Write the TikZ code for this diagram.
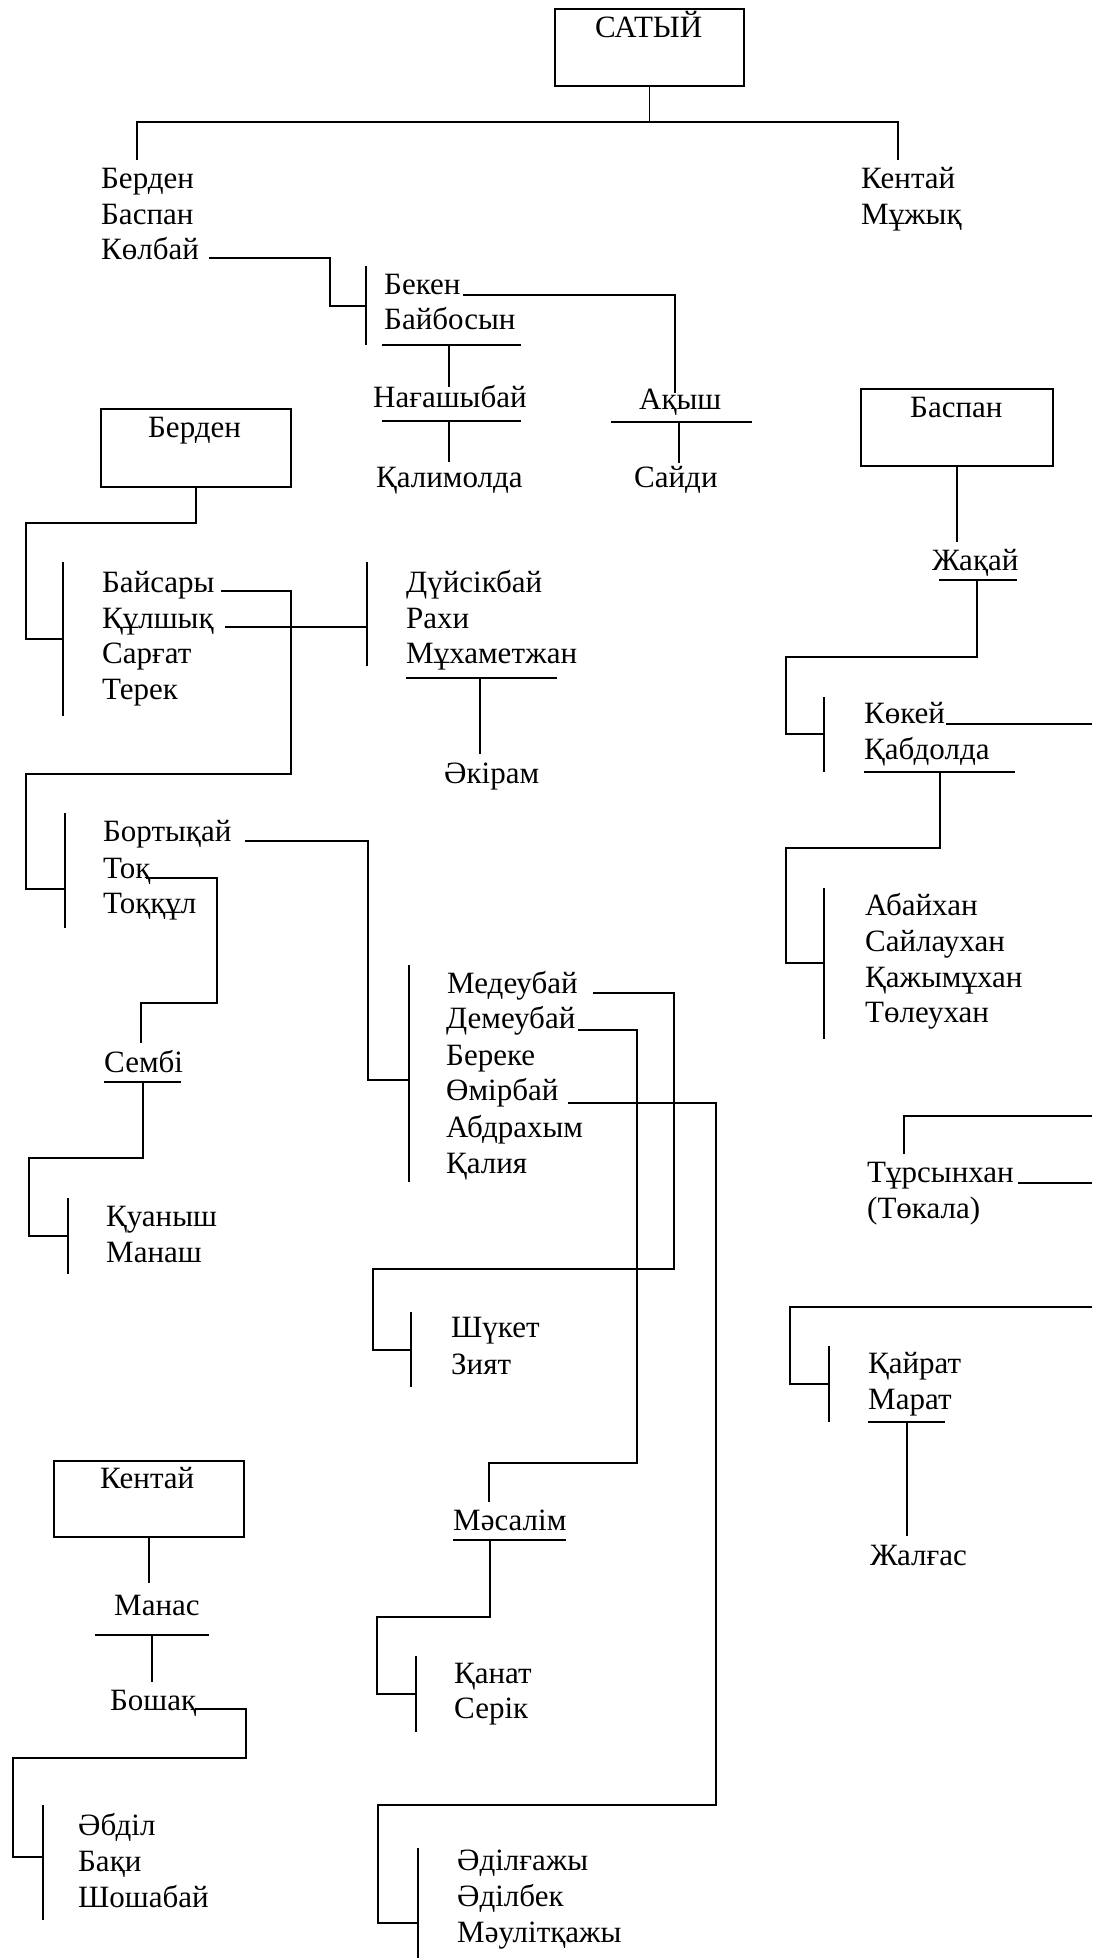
\documentclass[tikz,border=0pt]{standalone}
\usepackage{fontspec}
\setmainfont{Liberation Serif}
\begin{document}
\begin{tikzpicture}[x=1pt,y=-1pt,
 nm/.style={anchor=base west,inner sep=0pt,font=\fontsize{31}{37}\selectfont},
 ln/.style={line width=1.8pt},
 ul/.style={line width=2.5pt},
 bx/.style={draw,line width=2pt,anchor=north west,inner sep=0pt,outer sep=0pt}]
\useasboundingbox (0,0) rectangle (1092,1958);

% ---------- boxes ----------
\node[bx,minimum width=189pt,minimum height=77pt] (satyiB) at (555,9) {};
\node[nm] (satyi) at (595,38) {САТЫЙ};
\node[bx,minimum width=190pt,minimum height=78pt] (berdenB) at (101,409) {};
\node[nm] (berdenT) at (148,437) {Берден};
\node[bx,minimum width=192pt,minimum height=77pt] (baspanB) at (861,389) {};
\node[nm] (baspanT) at (910,417) {Баспан};
\node[bx,minimum width=190pt,minimum height=76pt] (kentaiB) at (54,1461) {};
\node[nm] (kentaiT) at (100,1488) {Кентай};

% ---------- names ----------
\node[nm] (n1) at (101,189) {Берден};
\node[nm] (n2) at (101,225) {Баспан};
\node[nm] (n3) at (101,260) {Көлбай};
\node[nm] (n4) at (861,189) {Кентай};
\node[nm] (n5) at (861,225) {Мұжық};
\node[nm] (n6) at (384,295) {Бекен};
\node[nm] (n7) at (384,330) {Байбосын};
\node[nm] (n8) at (373,407) {Нағашыбай};
\node[nm] (n9) at (376,487) {Қалимолда};
\node[nm] (n10) at (639,409) {Ақыш};
\node[nm] (n11) at (634,487) {Сайди};
\node[nm] (n12) at (102,592) {Байсары};
\node[nm] (n13) at (102,628) {Құлшық};
\node[nm] (n14) at (102,663) {Сарғат};
\node[nm] (n15) at (102,699) {Терек};
\node[nm] (n16) at (406,592) {Дүйсікбай};
\node[nm] (n17) at (406,628) {Рахи};
\node[nm] (n18) at (406,663) {Мұхаметжан};
\node[nm] (n19) at (444,783) {Әкірам};
\node[nm] (n20) at (932,570) {Жақай};
\node[nm] (n21) at (864,723) {Көкей};
\node[nm] (n22) at (864,759) {Қабдолда};
\node[nm] (n23) at (865,915) {Абайхан};
\node[nm] (n24) at (865,951) {Сайлаухан};
\node[nm] (n25) at (865,987) {Қажымұхан};
\node[nm] (n26) at (865,1022) {Төлеухан};
\node[nm] (n27) at (103,841) {Бортықай};
\node[nm] (n28) at (103,878) {Тоқ};
\node[nm] (n29) at (103,913) {Тоққұл};
\node[nm] (n30) at (447,993) {Медеубай};
\node[nm] (n31) at (446,1028) {Демеубай};
\node[nm] (n32) at (446,1065) {Береке};
\node[nm] (n33) at (446,1100) {Өмірбай};
\node[nm] (n34) at (446,1137) {Абдрахым};
\node[nm] (n35) at (446,1173) {Қалия};
\node[nm] (n36) at (104,1072) {Сембі};
\node[nm] (n37) at (106,1226) {Қуаныш};
\node[nm] (n38) at (106,1262) {Манаш};
\node[nm] (n39) at (867,1182) {Тұрсынхан};
\node[nm] (n40) at (867,1218) {(Төкала)};
\node[nm] (n41) at (451,1337) {Шүкет};
\node[nm] (n42) at (451,1374) {Зият};
\node[nm] (n43) at (868,1373) {Қайрат};
\node[nm] (n44) at (868,1409) {Марат};
\node[nm] (n45) at (453,1530) {Мәсалім};
\node[nm] (n46) at (870,1565) {Жалғас};
\node[nm] (n47) at (114,1615) {Манас};
\node[nm] (n48) at (110,1710) {Бошақ};
\node[nm] (n49) at (454,1683) {Қанат};
\node[nm] (n50) at (454,1718) {Серік};
\node[nm] (n51) at (78,1835) {Әбділ};
\node[nm] (n52) at (78,1871) {Бақи};
\node[nm] (n53) at (78,1907) {Шошабай};
\node[nm] (n54) at (457,1870) {Әділғажы};
\node[nm] (n55) at (457,1906) {Әділбек};
\node[nm] (n56) at (457,1942) {Мәулітқажы};

% ---------- connectors ----------
% top
\coordinate (topJ) at (648,122);
\coordinate (topL) at (137,160);
\coordinate (topR) at (898,160);
\draw[ln] (satyiB.south) -- (satyiB.south |- topJ);
\draw[ln] (topL) |- (topJ) -| (topR);

% Kolbai
\coordinate (kolA) at (209,258);
\coordinate (kolJ) at (330,306);
\coordinate (br1T) at (366,266);
\coordinate (br1B) at (366,345);
\draw[ln] (kolA) -| (kolJ) -- (kolJ -| br1T);
\draw[ln] (br1T) -- (br1B);

% Beken -> Akysh
\coordinate (bekA) at (463,295);
\coordinate (akyshTop) at (675,393);
\draw[ln] (bekA) -| (akyshTop);

% Baibosyn / Nagashybai
\coordinate (u1L) at (382,345); \coordinate (u1R) at (521,345);
\draw[ul] (u1L) -- (u1R);
\coordinate (v1B) at (449,387);
\draw[ln] (v1B |- u1L) -- (v1B);
\coordinate (u2L) at (382,421); \coordinate (u2R) at (521,421);
\draw[ul] (u2L) -- (u2R);
\coordinate (v2B) at (449,462);
\draw[ln] (v2B |- u2L) -- (v2B);
% Akysh
\coordinate (u3L) at (611,422); \coordinate (u3R) at (752,422);
\draw[ul] (u3L) -- (u3R);
\coordinate (v3B) at (679,463);
\draw[ln] (v3B |- u3L) -- (v3B);

% Berden box
\coordinate (bJ1) at (26,523);
\coordinate (br2T) at (63,562); \coordinate (br2M) at (63,639); \coordinate (br2B) at (63,716);
\draw[ln] (berdenB.south) |- (bJ1) |- (br2M);
\draw[ln] (br2T) -- (br2B);

% Baisary
\coordinate (baisA) at (221,591);
\coordinate (baisJ) at (291,774);
\coordinate (baisK) at (26,774);
\coordinate (br3T) at (65,813); \coordinate (br3M) at (65,889); \coordinate (br3B) at (65,928);
\draw[ln] (baisA) -| (baisJ) -- (baisK) |- (br3M);
\draw[ln] (br3T) -- (br3B);

% Kulshyk
\coordinate (kulA) at (225,627);
\coordinate (br4T) at (367,562); \coordinate (br4B) at (367,666);
\draw[ln] (kulA) -- (kulA -| br4T);
\draw[ln] (br4T) -- (br4B);
% Mukhametzhan
\coordinate (u4L) at (406,678); \coordinate (u4R) at (557,678);
\draw[ul] (u4L) -- (u4R);
\coordinate (v4B) at (480,754);
\draw[ln] (v4B |- u4L) -- (v4B);

% Baspan box
\coordinate (zhakTop) at (957,542);
\draw[ln] (baspanB.south) -- (baspanB.south |- zhakTop);
% Zhakai
\coordinate (u5L) at (939,580); \coordinate (u5R) at (1017,580);
\draw[ul] (u5L) -- (u5R);
\coordinate (zJ) at (977,657); \coordinate (zK) at (786,657);
\coordinate (br5T) at (824,697); \coordinate (br5M) at (824,734); \coordinate (br5B) at (824,772);
\draw[ln] (zJ |- u5L) -- (zJ) -- (zK) |- (br5M);
\draw[ln] (br5T) -- (br5B);
% Kokei
\coordinate (kokA) at (946,724); \coordinate (kokE) at (1092,724);
\draw[ln] (kokA) -- (kokE);
% Kabdolda
\coordinate (u6L) at (864,772); \coordinate (u6R) at (1015,772);
\draw[ul] (u6L) -- (u6R);
\coordinate (qJ) at (940,848); \coordinate (qK) at (786,848);
\coordinate (br6T) at (824,888); \coordinate (br6M) at (824,963); \coordinate (br6B) at (824,1039);
\draw[ln] (qJ |- u6L) -- (qJ) -- (qK) |- (br6M);
\draw[ln] (br6T) -- (br6B);

% Bortykai
\coordinate (borA) at (245,841); \coordinate (borJ) at (368,1080);
\coordinate (br7T) at (409,965); \coordinate (br7B) at (409,1182);
\draw[ln] (borA) -| (borJ) -- (borJ -| br7T);
\draw[ln] (br7T) -- (br7B);

% Tok
\coordinate (tokA) at (146,878); \coordinate (tokJ) at (217,1003); \coordinate (sembiTop) at (141,1043);
\draw[ln] (tokA) -| (tokJ) -| (sembiTop);

% Sembi
\coordinate (u7L) at (104,1082); \coordinate (u7R) at (181,1082);
\draw[ul] (u7L) -- (u7R);
\coordinate (sJ) at (143,1158); \coordinate (sK) at (29,1158);
\coordinate (br8T) at (68,1198); \coordinate (br8M) at (68,1236); \coordinate (br8B) at (68,1274);
\draw[ln] (sJ |- u7L) -- (sJ) -- (sK) |- (br8M);
\draw[ln] (br8T) -- (br8B);

% Medeubai
\coordinate (medA) at (593,993); \coordinate (medJ) at (674,1269); \coordinate (medK) at (373,1269);
\coordinate (br9T) at (411,1312); \coordinate (br9M) at (411,1350); \coordinate (br9B) at (411,1387);
\draw[ln] (medA) -| (medJ) -- (medK) |- (br9M);
\draw[ln] (br9T) -- (br9B);

% Demeubai
\coordinate (demA) at (578,1030); \coordinate (demJ) at (637,1463); \coordinate (masTop) at (489,1502);
\draw[ln] (demA) -| (demJ) -| (masTop);

% Omirbai
\coordinate (omA) at (568,1103); \coordinate (omJ) at (716,1805); \coordinate (omK) at (378,1805);
\coordinate (br10T) at (418,1848); \coordinate (br10M) at (418,1923); \coordinate (br10B) at (418,1958);
\draw[ln] (omA) -| (omJ) -- (omK) |- (br10M);
\draw[ln] (br10T) -- (br10B);

% Masalim
\coordinate (u8L) at (453,1540); \coordinate (u8R) at (566,1540);
\draw[ul] (u8L) -- (u8R);
\coordinate (mJ) at (490,1617); \coordinate (mK) at (377,1617);
\coordinate (br11T) at (416,1656); \coordinate (br11M) at (416,1694); \coordinate (br11B) at (416,1732);
\draw[ln] (mJ |- u8L) -- (mJ) -- (mK) |- (br11M);
\draw[ln] (br11T) -- (br11B);

% Tursynkhan
\coordinate (tJ) at (904,1154); \coordinate (tE) at (1092,1116);
\draw[ln] (tJ) |- (tE);
\coordinate (tA) at (1018,1183); \coordinate (tE2) at (1092,1183);
\draw[ln] (tA) -- (tE2);

% Kairat
\coordinate (kE) at (1092,1307); \coordinate (kK) at (790,1307);
\coordinate (br12T) at (829,1346); \coordinate (br12M) at (829,1384); \coordinate (br12B) at (829,1422);
\draw[ln] (kE) -- (kK) |- (br12M);
\draw[ln] (br12T) -- (br12B);
% Marat
\coordinate (u9L) at (868,1422); \coordinate (u9R) at (945,1422);
\draw[ul] (u9L) -- (u9R);
\coordinate (v9B) at (907,1536);
\draw[ln] (v9B |- u9L) -- (v9B);

% Kentai box
\coordinate (manTop) at (149,1583);
\draw[ln] (kentaiB.south) -- (kentaiB.south |- manTop);
% Manas
\coordinate (u10L) at (95,1635); \coordinate (u10R) at (209,1635);
\draw[ul] (u10L) -- (u10R);
\coordinate (v10B) at (152,1682);
\draw[ln] (v10B |- u10L) -- (v10B);
% Boshak
\coordinate (boA) at (195,1709); \coordinate (boJ) at (246,1758); \coordinate (boK) at (13,1758);
\coordinate (br13T) at (43,1805); \coordinate (br13M) at (43,1857); \coordinate (br13B) at (43,1920);
\draw[ln] (boA) -| (boJ) -- (boK) |- (br13M);
\draw[ln] (br13T) -- (br13B);
\end{tikzpicture}
\end{document}
